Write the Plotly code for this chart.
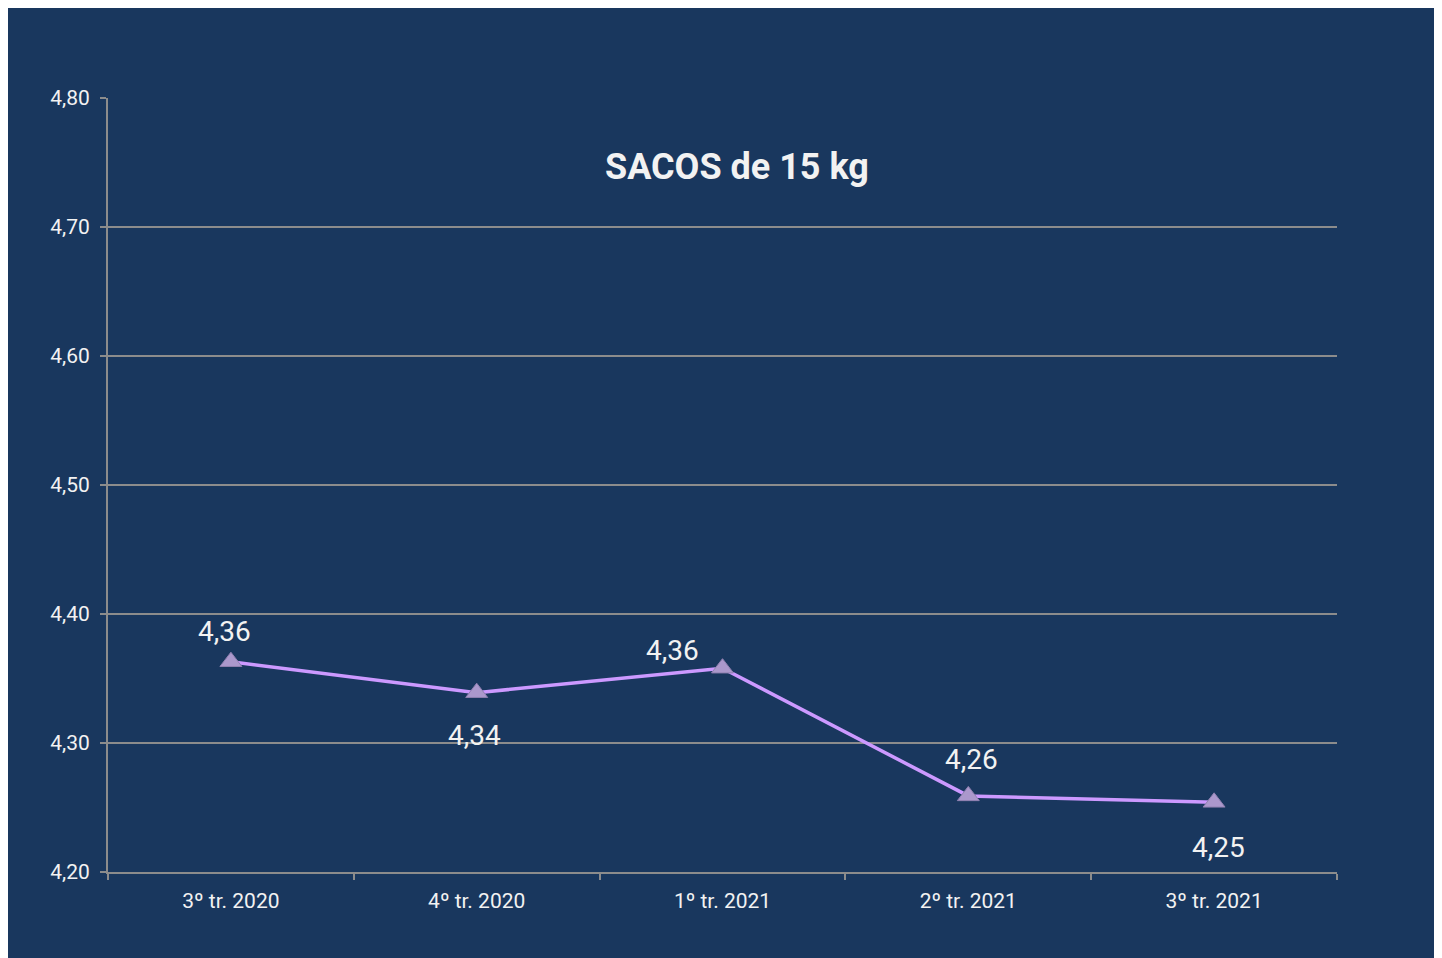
import plotly.graph_objects as go

categories = ["3º tr. 2020", "4º tr. 2020", "1º tr. 2021", "2º tr. 2021", "3º tr. 2021"]
values = [4.363, 4.339, 4.358, 4.259, 4.254]
y_ticks = [4.20, 4.30, 4.40, 4.50, 4.60, 4.70, 4.80]
title_text = "SACOS de 15 kg"

# label offsets (style only, pixels relative to each point)
label_xshift = [-6, -2, -50, 3, 4]
label_yshift = [30, -43, 18, 36, -45]

NAVY = "#19375e"
GRID = "#8c8c8c"
TXT = "#f2f2f2"
FONT = "Roboto, Lato, sans-serif"

# page body has an 8px margin, so the figure starts at (8, 8) on the page
W, H = 1460, 958
L, T, B = 100, 90, 94
PW = 1229
R = W - L - PW
ph = H - T - B

def px_x(p):
    return (p - 8 - L) / PW

def px_y(p):
    return (H - B - (p - 8)) / ph

fmt = lambda v: f"{v:.2f}".replace(".", ",")

fig = go.Figure()
fig.add_trace(go.Scatter(
    x=categories, y=values,
    mode="lines+markers",
    line=dict(color="#cc99ff", width=3.5),
    marker=dict(symbol="triangle-up", size=19, color="#ab98cc",
                line=dict(color="#8f80b0", width=1)),
    cliponaxis=False,
    showlegend=False,
))

annotations = [dict(
    text="<b>" + title_text + "</b>", xref="paper", yref="paper",
    x=px_x(737), y=px_y(167), xanchor="center", yanchor="middle",
    showarrow=False, font=dict(family=FONT, size=36, color=TXT),
)]
for c, v, dx, dy in zip(categories, values, label_xshift, label_yshift):
    annotations.append(dict(
        x=c, y=v, xref="x", yref="y", text=fmt(v), showarrow=False,
        xanchor="center", yanchor="middle", xshift=dx, yshift=dy,
        font=dict(family=FONT, size=28, color=TXT),
    ))

fig.update_layout(
    width=W, height=H,
    margin=dict(l=L, r=R, t=T, b=B),
    paper_bgcolor=NAVY,
    plot_bgcolor="rgba(0,0,0,0)",
    separators=",.",
    font=dict(family=FONT, color=TXT, size=21),
    xaxis=dict(
        type="category", range=[-0.5, 4.5],
        showgrid=False, showline=True, linecolor=GRID, linewidth=2,
        ticks="outside", tickson="boundaries", ticklen=6, tickcolor=GRID, tickwidth=2,
        ticklabelstandoff=9,
        tickfont=dict(family=FONT, size=21, color=TXT),
        zeroline=False,
    ),
    yaxis=dict(
        range=[4.20, 4.80], tickvals=y_ticks,
        ticktext=[fmt(v) for v in y_ticks],
        showgrid=True, gridcolor=GRID, gridwidth=2,
        showline=True, linecolor=GRID, linewidth=2,
        ticks="outside", ticklen=6, tickcolor=GRID, tickwidth=2,
        ticklabelstandoff=6,
        tickfont=dict(family=FONT, size=21, color=TXT),
        zeroline=False,
    ),
    annotations=annotations,
)

fig.write_html("out.html")
